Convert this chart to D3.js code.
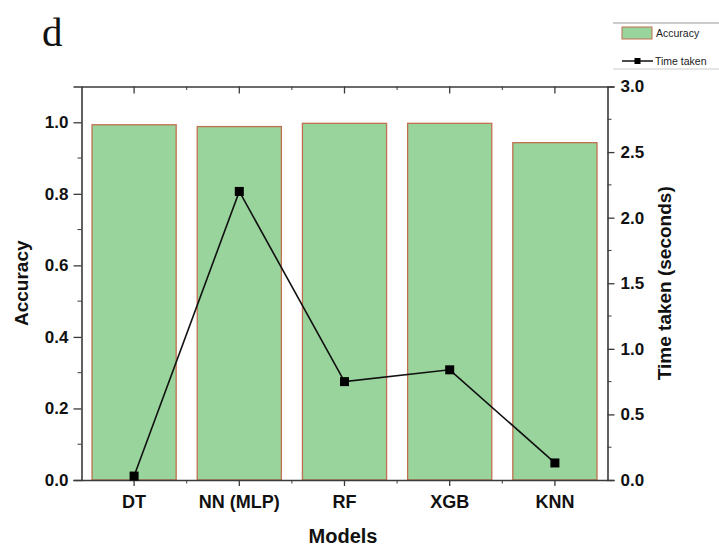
<!DOCTYPE html>
<html>
<head>
<meta charset="utf-8">
<script src="https://cdn.jsdelivr.net/npm/d3@7"></script>
<style>
  html, body { margin: 0; padding: 0; background: #fff; }
  svg { display: block; }
</style>
</head>
<body>
<svg id="chart" width="719" height="548"></svg>
<script>
const categories = ["DT", "NN (MLP)", "RF", "XGB", "KNN"];
const accuracy = [0.993, 0.988, 0.997, 0.997, 0.943];
const timeTaken = [0.03, 2.20, 0.75, 0.84, 0.13];
const leftTicks = [0.0, 0.2, 0.4, 0.6, 0.8, 1.0];
const leftMinor = [0.1, 0.3, 0.5, 0.7, 0.9];
const rightTicks = [0.0, 0.5, 1.0, 1.5, 2.0, 2.5, 3.0];
const rightMinor = [0.25, 0.75, 1.25, 1.75, 2.25, 2.75];

const svg = d3.select("#chart");
const L = 81.5, R = 607.5, T = 86.5, B = 480;
const axisColor = "#3a3a3a";
const font = "'Liberation Sans', Arial, sans-serif";

const x = d3.scaleBand().domain(categories).range([L, R]).paddingInner(0.2).paddingOuter(0.1);
const yL = d3.scaleLinear().domain([0, 1.1]).range([B, T]);
const yR = d3.scaleLinear().domain([0, 3.0]).range([B, T]);
const cx = d => x(d) + x.bandwidth() / 2;

// bars
svg.append("g").selectAll("rect").data(categories).join("rect")
  .attr("x", d => x(d))
  .attr("y", (d, i) => yL(accuracy[i]))
  .attr("width", x.bandwidth())
  .attr("height", (d, i) => B - yL(accuracy[i]))
  .attr("fill", "#98d49b")
  .attr("stroke", "#c0704f")
  .attr("stroke-width", 1.3);

// axes
const gL = svg.append("g").attr("transform", `translate(${L},0)`)
  .call(d3.axisLeft(yL).tickValues(leftTicks).tickFormat(d3.format(".1f")).tickSize(8).tickPadding(5));
gL.append("g").selectAll("line").data(leftMinor).join("line")
  .attr("x1", 0).attr("x2", -4).attr("y1", d => yL(d)).attr("y2", d => yL(d)).attr("stroke", axisColor);

const gR = svg.append("g").attr("transform", `translate(${R},0)`)
  .call(d3.axisRight(yR).tickValues(rightTicks).tickFormat(d3.format(".1f")).tickSize(7).tickPadding(6));
gR.append("g").selectAll("line").data(rightMinor).join("line")
  .attr("x1", 0).attr("x2", 4).attr("y1", d => yR(d)).attr("y2", d => yR(d)).attr("stroke", axisColor);

const gB = svg.append("g").attr("transform", `translate(0,${B})`)
  .call(d3.axisBottom(x).tickSize(6).tickPadding(9).tickSizeOuter(0));
const between = categories.slice(0, -1).map(d => cx(d) + x.step() / 2);
gB.append("g").selectAll("line").data(between).join("line")
  .attr("x1", d => d).attr("x2", d => d).attr("y1", 0).attr("y2", 3.5).attr("stroke", axisColor);

const gT = svg.append("g").attr("transform", `translate(0,${T})`)
  .call(d3.axisTop(x).tickSize(-7).tickFormat("").tickSizeOuter(0));
gT.append("g").selectAll("line").data(between).join("line")
  .attr("x1", d => d).attr("x2", d => d).attr("y1", 0).attr("y2", 3.5).attr("stroke", axisColor);

[gL, gR, gB, gT].forEach(g => {
  g.selectAll(".domain").attr("stroke", axisColor).attr("stroke-width", 1.6);
  g.selectAll(".tick line").attr("stroke", axisColor).attr("stroke-width", 1.3);
  g.selectAll(".tick text").attr("fill", "#111").attr("font-family", font)
    .attr("font-weight", "bold").attr("font-size", 17);
});
gB.selectAll(".tick text").attr("font-size", 18);

// line series
const line = d3.line().x((d, i) => cx(categories[i])).y(d => yR(d));
svg.append("path").datum(timeTaken).attr("d", line)
  .attr("fill", "none").attr("stroke", "#111").attr("stroke-width", 1.6);
svg.append("g").selectAll("rect").data(timeTaken).join("rect")
  .attr("x", (d, i) => cx(categories[i]) - 4.5)
  .attr("y", d => yR(d) - 4.5)
  .attr("width", 9).attr("height", 9).attr("fill", "#000");

// titles
svg.append("text").attr("x", 343).attr("y", 543).attr("text-anchor", "middle")
  .attr("font-family", font).attr("font-weight", "bold").attr("font-size", 20).attr("fill", "#111")
  .text("Models");
svg.append("text").attr("transform", `translate(28,${(T + B) / 2}) rotate(-90)`).attr("text-anchor", "middle")
  .attr("font-family", font).attr("font-weight", "bold").attr("font-size", 19).attr("fill", "#111")
  .text("Accuracy");
svg.append("text").attr("transform", `translate(671,${(T + B) / 2}) rotate(-90)`).attr("text-anchor", "middle")
  .attr("font-family", font).attr("font-weight", "bold").attr("font-size", 19).attr("fill", "#111")
  .text("Time taken (seconds)");
svg.append("text").attr("x", 42).attr("y", 46)
  .attr("font-family", "'Liberation Serif', 'Times New Roman', serif").attr("font-size", 41).attr("fill", "#111")
  .text("d");

// legend
const lg = svg.append("g");
lg.append("line").attr("x1", 613).attr("x2", 719).attr("y1", 23).attr("y2", 23).attr("stroke", "#999").attr("stroke-width", 1);
lg.append("line").attr("x1", 613).attr("x2", 719).attr("y1", 69).attr("y2", 69).attr("stroke", "#ccc").attr("stroke-width", 1);
lg.append("rect").attr("x", 622).attr("y", 27).attr("width", 30).attr("height", 12)
  .attr("fill", "#98d49b").attr("stroke", "#c0704f").attr("stroke-width", 1);
lg.append("text").attr("x", 656).attr("y", 37).attr("font-family", font).attr("font-size", 10.5).attr("fill", "#222").text("Accuracy");
lg.append("line").attr("x1", 622).attr("x2", 653).attr("y1", 61).attr("y2", 61).attr("stroke", "#111").attr("stroke-width", 1.5);
lg.append("rect").attr("x", 634.5).attr("y", 58).attr("width", 6).attr("height", 6).attr("fill", "#000");
lg.append("text").attr("x", 655).attr("y", 65).attr("font-family", font).attr("font-size", 10.5).attr("fill", "#222").text("Time taken");
</script>
</body>
</html>
